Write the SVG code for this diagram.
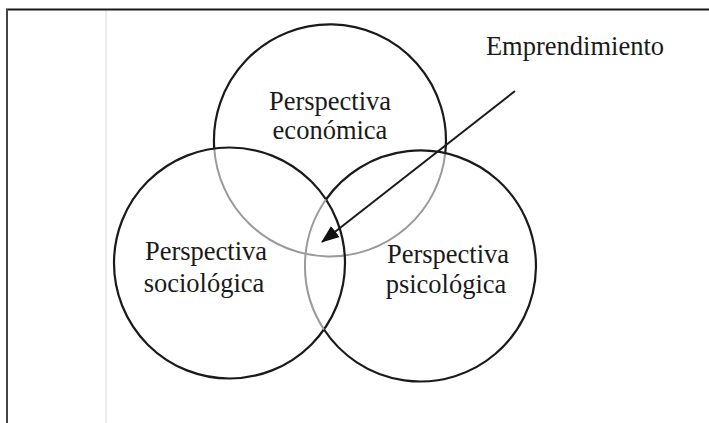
<svg xmlns="http://www.w3.org/2000/svg" width="709" height="423" viewBox="0 0 709 423">
  <style>
    .ring { fill: none; stroke: #1a1a1a; stroke-width: 2.2; }
    .faint { fill: none; stroke: #9a9a9a; stroke-width: 2; }
    .lbl { font-family: "Liberation Serif", "Times New Roman", serif; font-size: 26.5px; fill: #1a1a1a; text-anchor: middle; }
  </style>
  <defs>
    <marker id="head" viewBox="0 0 18 14" refX="17" refY="7" markerWidth="18" markerHeight="14" orient="auto" markerUnits="userSpaceOnUse">
      <path d="M0,0 L18,7 L0,14 z" fill="#111"/>
    </marker>
  </defs>
  <rect width="709" height="423" fill="#ffffff"/>

  <!-- frame -->
  <g id="frame">
    <line x1="106" y1="10" x2="106" y2="423" stroke="#e6e6e6" stroke-width="1.5"/>
    <line x1="6" y1="9.5" x2="709" y2="9.5" stroke="#1a1a1a" stroke-width="2"/>
    <line x1="7" y1="9" x2="7" y2="423" stroke="#444" stroke-width="2"/>
  </g>

  <!-- economic perspective: upper circle -->
  <g id="economica">
    <path class="ring" d="M214.2,148 A116,116 0 1 1 445.3,152.7"/>
    <path class="faint" d="M214.2,148 A116,116 0 0 0 445.3,152.7"/>
    <text class="lbl" x="330" y="110">Perspectiva</text>
    <text class="lbl" x="330" y="139">económica</text>
  </g>

  <!-- sociological perspective: left circle -->
  <g id="sociologica">
    <circle class="ring" cx="229.5" cy="263" r="115.5"/>
    <text class="lbl" x="206" y="260">Perspectiva</text>
    <text class="lbl" x="204" y="292">sociológica</text>
  </g>

  <!-- psychological perspective: right circle -->
  <g id="psicologica">
    <path class="ring" d="M326,199.5 A115.5,115.5 0 1 1 324,329.5"/>
    <path class="faint" d="M326,199.5 A115.5,115.5 0 0 0 324,329.5"/>
    <text class="lbl" x="448" y="263">Perspectiva</text>
    <text class="lbl" x="446" y="293">psicológica</text>
  </g>

  <!-- entrepreneurship label -->
  <g id="emprendimiento">
    <text class="lbl" x="575" y="55">Emprendimiento</text>
  </g>

  <!-- connectors -->
  <g id="connectors">
    <line x1="515" y1="91" x2="322" y2="242" stroke="#1a1a1a" stroke-width="2" marker-end="url(#head)"/>
  </g>
</svg>
